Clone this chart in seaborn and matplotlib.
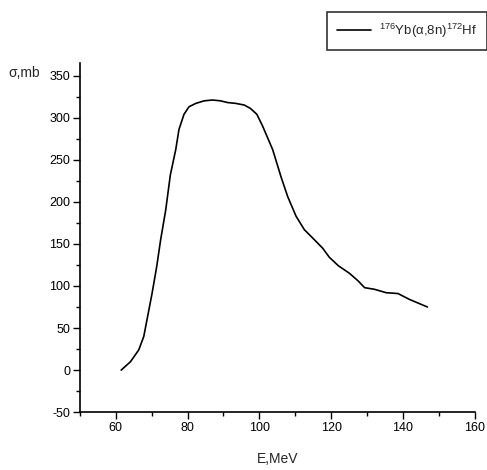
import matplotlib.pyplot as plt
import pandas as pd
import seaborn as sns

sns.set_style("ticks")
plt.rcParams['font.family'] = ['Liberation Sans', 'DejaVu Sans']
plt.rcParams['font.size'] = 9.0
plt.rcParams['axes.unicode_minus'] = False
plt.rcParams['mathtext.fontset'] = 'custom'
plt.rcParams['mathtext.rm'] = 'Liberation Sans'

energy = [61.5, 64.1, 66.4, 67.8, 68.7, 70.1, 71.4, 72.5, 73.9, 75.2, 76.7, 77.6,
          79.0, 80.4, 82.3, 84.6, 86.9, 89.2, 91.1, 93.4, 95.8, 97.5, 99.3, 100.9,
          102.3, 103.7, 106.0, 107.9, 110.2, 112.5, 115.3, 117.6, 119.5, 122.0,
          125.1, 127.5, 129.3, 132.1, 135.3, 138.6, 141.8, 146.8]
sigma = [0, 10, 24, 40, 60, 91, 123, 155, 190, 232, 262, 286,
         304, 313, 317, 320, 321, 320, 318, 317, 315, 311, 304, 290,
         276, 262, 230, 206, 183, 167, 155, 145, 134, 124,
         115, 106, 98, 96, 92, 91, 84, 75]
label = r'$^{176}$Yb(α,8n)$^{172}$Hf'

df = pd.DataFrame({"E": energy, "sigma": sigma})

fig = plt.figure(figsize=(4.87, 4.70), dpi=100)
ax = fig.add_axes([0.164, 0.123, 0.811, 0.743])
sns.lineplot(data=df, x="E", y="sigma", sort=False, color="black", linewidth=1.2,
             ax=ax, label=label, legend=False)

ax.set_xlim(50, 160)
ax.set_ylim(-50, 365)
ax.set_xticks([60, 80, 100, 120, 140, 160])
ax.set_xticks(range(50, 161, 10), minor=True)
ax.set_yticks(range(-50, 351, 50))
ax.set_yticks(range(-50, 351, 25), minor=True)
ax.tick_params(which="major", direction="out", length=5, width=1, colors="black", pad=2)
ax.tick_params(which="minor", direction="out", length=3, width=1, colors="black")
sns.despine(ax=ax)
for s in ["left", "bottom"]:
    ax.spines[s].set_linewidth(1.2)
    ax.spines[s].set_color("black")

ax.set_xlabel("E,MeV", fontsize=10, labelpad=13)
ax.set_ylabel("")
fig.text(0.018, 0.845, "σ,mb", fontsize=10, ha="left", va="center")

leg = fig.legend(loc="upper left", bbox_to_anchor=(327 / 487, 1 - 12 / 470),
                 frameon=True, fancybox=False, edgecolor="black", fontsize=9.5,
                 handlelength=2.6, borderpad=0.75, handletextpad=0.6, borderaxespad=0)
leg.get_frame().set_linewidth(1.2)

fig.savefig("out.png", dpi=100)
